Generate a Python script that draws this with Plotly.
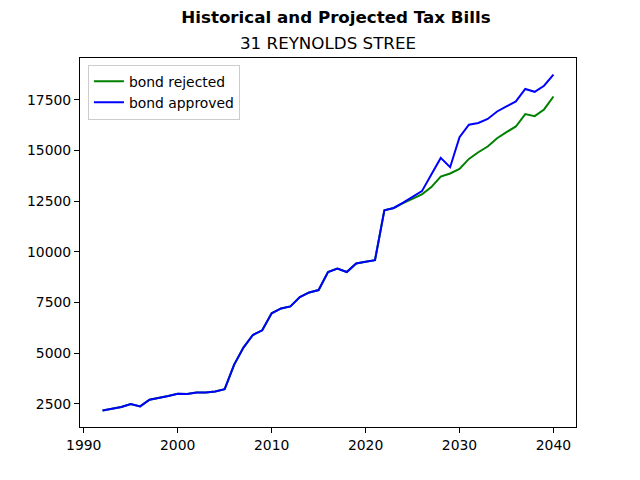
import plotly.graph_objects as go

years = list(range(1992, 2041))

# historical part is shared, projections split after 2023
bond_rejected = [2170, 2240, 2340, 2485, 2370, 2700, 2780, 2880, 2990, 2975,
                 3055, 3055, 3105, 3220, 4420, 5270, 5890, 6120, 6960, 7200,
                 7300, 7760, 7990, 8110, 9000, 9170, 9000, 9420, 9500, 9580,
                 12040, 12160, 12400, 12620, 12830, 13190, 13710, 13860, 14090, 14580,
                 14910, 15190, 15600, 15900, 16180, 16790, 16690, 17020, 17660]
bond_approved = [2170, 2240, 2340, 2485, 2370, 2700, 2780, 2880, 2990, 2975,
                 3055, 3055, 3105, 3220, 4420, 5270, 5890, 6120, 6960, 7200,
                 7300, 7760, 7990, 8110, 9000, 9170, 9000, 9420, 9500, 9580,
                 12040, 12160, 12420, 12700, 12990, 13810, 14630, 14170, 15650, 16270,
                 16350, 16550, 16920, 17170, 17420, 18030, 17890, 18190, 18740]

ytick_vals = [2500, 5000, 7500, 10000, 12500, 15000, 17500]
ytick_text = ["2500", "5000", "7500", "10000", "12500", "15000", "17500"]
xtick_vals = [1990, 2000, 2010, 2020, 2030, 2040]

fig = go.Figure()
fig.add_trace(go.Scatter(x=years, y=bond_rejected, mode="lines", name="bond rejected",
                         line=dict(color="green", width=2)))
fig.add_trace(go.Scatter(x=years, y=bond_approved, mode="lines", name="bond approved",
                         line=dict(color="blue", width=2)))

axis_style = dict(showline=True, linecolor="black", linewidth=1.1, mirror=True,
                  showgrid=False, zeroline=False, ticks="outside", ticklen=5,
                  tickwidth=1.1, tickcolor="black", automargin=False,
                  tickfont=dict(size=13.9, color="black"))

# page body has an 8px margin, so the figure is a bit smaller and shifted
fig.update_layout(
    width=632, height=472,
    paper_bgcolor="white", plot_bgcolor="white",
    font=dict(family="DejaVu Sans", color="black"),
    margin=dict(l=72, r=64, t=49.6, b=52.8),
    title=dict(text="<b>Historical and Projected Tax Bills</b>", x=328 / 632, xanchor="center",
               y=0.981, yanchor="middle", font=dict(size=16.7)),
    showlegend=True,
    legend=dict(x=0.016, y=0.982, xanchor="left", yanchor="top",
                bordercolor="#cccccc", borderwidth=1, bgcolor="rgba(255,255,255,0.8)",
                font=dict(size=13.9), tracegroupgap=0),
    annotations=[dict(text="31 REYNOLDS STREE", xref="paper", yref="paper",
                      x=0.5, y=1, xanchor="center", yanchor="bottom", yshift=3,
                      showarrow=False, font=dict(size=16.7))],
)
fig.update_xaxes(range=[1989.6, 2042.4], tickvals=xtick_vals, **axis_style)
fig.update_yaxes(range=[1351, 19559], tickvals=ytick_vals, ticktext=ytick_text, **axis_style)

fig.write_html("out.html")
